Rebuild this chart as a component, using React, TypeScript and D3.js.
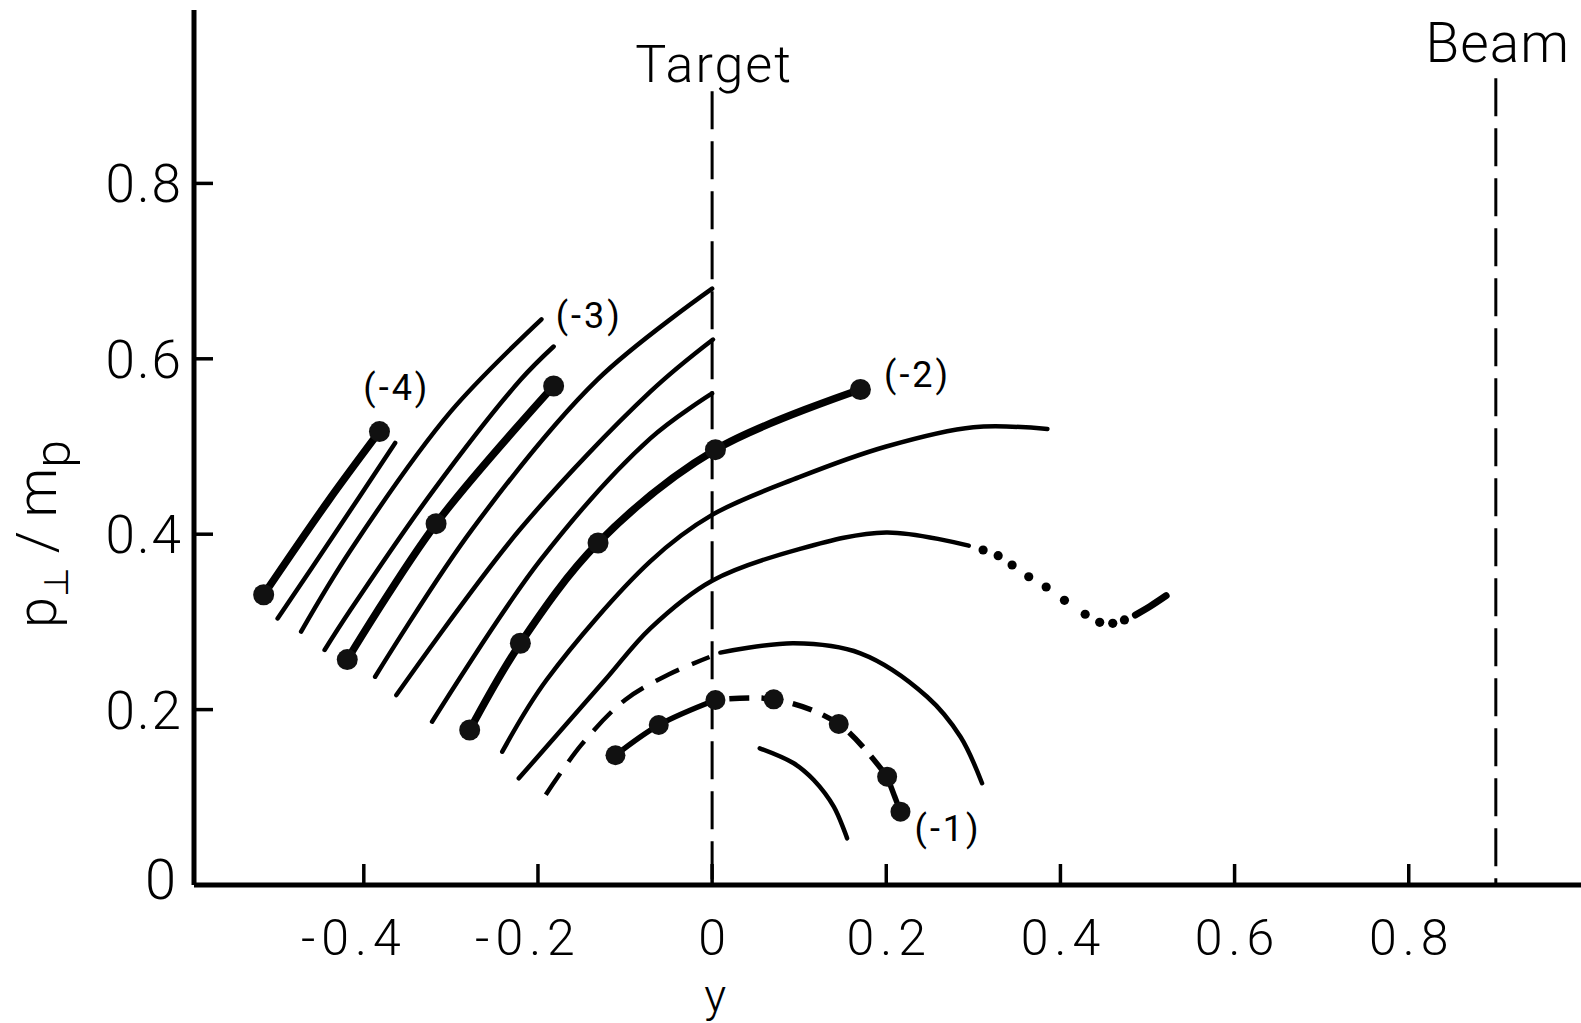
import React from "react";
import * as d3 from "d3";

const W = 1581;
const H = 1023;

// ---- axes ----
const xTickValues = [-0.4, -0.2, 0, 0.2, 0.4, 0.6, 0.8];
const xTickLabels = ["-0.4", "-0.2", "0", "0.2", "0.4", "0.6", "0.8"];
const yTickValues = [0, 0.2, 0.4, 0.6, 0.8];
const yTickLabels = ["0", "0.2", "0.4", "0.6", "0.8"];

const targetRapidity = 0;
const beamRapidity = 0.9;
const targetLineTop = 0.905;
const beamLineTop = 0.92;

// ---- thin contour curves [y, pT/mp] ----
const contour1: [number, number][] = [[-0.499, 0.304], [-0.433, 0.401], [-0.364, 0.504]];
const contour2: [number, number][] = [[-0.472, 0.289], [-0.415, 0.382], [-0.3, 0.54], [-0.196, 0.645]];
const contour3: [number, number][] = [[-0.445, 0.268], [-0.415, 0.314], [-0.32, 0.45], [-0.22, 0.576], [-0.182, 0.614]];
const contour4: [number, number][] = [[-0.387, 0.2375], [-0.276, 0.405], [-0.132, 0.576], [0, 0.68]];
const contour5: [number, number][] = [[-0.3626, 0.2166], [-0.221, 0.405], [-0.0709, 0.5625], [0.001, 0.622]];
const contour6: [number, number][] = [[-0.3216, 0.1862], [-0.197, 0.3706], [-0.0709, 0.5093], [0, 0.5606]];
const contour7: [number, number][] = [[-0.241, 0.152], [-0.19, 0.234], [-0.071, 0.369], [0, 0.422], [0.1, 0.465], [0.2, 0.5], [0.3, 0.522], [0.385, 0.52]];
const contour8Solid: [number, number][] = [[-0.222, 0.1216], [-0.123, 0.2337], [-0.0709, 0.2927], [0, 0.347], [0.1, 0.383], [0.2, 0.402], [0.2947, 0.3869]];
const contour8Dotted: [number, number][] = [[0.3112, 0.382], [0.3285, 0.3755], [0.3445, 0.3649], [0.3636, 0.3515], [0.3836, 0.3398], [0.4046, 0.3246], [0.4284, 0.3087], [0.4451, 0.2995], [0.4601, 0.2984], [0.4735, 0.3022]];
const contour8Tail: [number, number][] = [[0.4861, 0.3079], [0.5034, 0.318], [0.5214, 0.3299]];
const contour9Dashed: [number, number][] = [[-0.191, 0.103], [-0.15, 0.16], [-0.1, 0.211], [-0.05, 0.24], [-0.003, 0.26]];
const contour9Solid: [number, number][] = [[0.0095, 0.265], [0.0937, 0.2756], [0.1703, 0.2642], [0.2469, 0.2147], [0.2852, 0.169], [0.31, 0.116]];
const contour10: [number, number][] = [[0.0547, 0.1559], [0.0937, 0.1388], [0.1167, 0.1197], [0.1397, 0.0893], [0.155, 0.0532]];

// ---- trajectories with measured points ----
const traj4: [number, number][] = [[-0.515, 0.331], [-0.44, 0.439], [-0.382, 0.517]];
const traj4Dots: [number, number][] = [[-0.515, 0.331], [-0.382, 0.517]];
const traj3: [number, number][] = [[-0.419, 0.257], [-0.317, 0.412], [-0.182, 0.569]];
const traj2: [number, number][] = [[-0.2784, 0.1767], [-0.2202, 0.2756], [-0.131, 0.39], [0.0038, 0.4964], [0.1703, 0.565]];
const traj1: [number, number][] = [[-0.111, 0.148], [-0.0613, 0.1824], [0.0038, 0.211], [0.0707, 0.2117], [0.1454, 0.1836], [0.201, 0.1235], [0.2163, 0.0836]];

const trajLabels = ["(-4)", "(-3)", "(-2)", "(-1)"];
const trajLabelAnchors: [number, number][] = [[-0.362, 0.553], [-0.141, 0.635], [0.236, 0.568], [0.271, 0.05]];

const FONT = "Roboto, 'Liberation Sans', 'DejaVu Sans', sans-serif";

export default function App() {
  const x = d3.scaleLinear().domain([-0.595, 1.0]).range([194, 1582.9]);
  const y = d3.scaleLinear().domain([0, 1.0]).range([885, 8]);

  const line = d3
    .line<[number, number]>()
    .x((d) => x(d[0]))
    .y((d) => y(d[1]))
    .curve(d3.curveCatmullRom.alpha(0.5));

  const thin = [contour1, contour2, contour3, contour4, contour5, contour6, contour7, contour8Solid, contour9Solid, contour10];
  const thick = [traj4, traj3, traj2];
  const dotSets = [traj4Dots, traj3, traj2];

  const x0 = x(-0.595);
  const yBase = y(0);

  return (
    <svg width={W} height={H} style={{ position: "absolute", left: 0, top: 0, background: "#fff" }}>
      <rect x={0} y={0} width={W} height={H} fill="#fff" />
      {/* axes */}
      <line x1={x0} x2={x0} y1={y(1.0) + 2} y2={yBase} stroke="#000" strokeWidth={5} />
      <line x1={x0} x2={W} y1={yBase} y2={yBase} stroke="#000" strokeWidth={5} />
      {xTickValues.map((v, i) => (
        <g key={"xt" + i}>
          <line x1={x(v)} x2={x(v)} y1={yBase} y2={yBase - 21} stroke="#000" strokeWidth={3.5} />
          <text
            x={x(v) + (v < 0 ? -10 : 3)}
            y={955}
            textAnchor="middle"
            fontFamily={FONT}
            fontWeight={300}
            fontSize={50}
            letterSpacing={6}
            fill="#000"
          >
            {xTickLabels[i]}
          </text>
        </g>
      ))}
      {yTickValues.map((v, i) => (
        <g key={"yt" + i}>
          {v > 0 && <line x1={x0} x2={x0 + 19} y1={y(v)} y2={y(v)} stroke="#000" strokeWidth={3.5} />}
          <text
            x={v === 0 ? 178 : 183}
            y={y(v) + (v === 0 ? 14 : 19)}
            textAnchor="end"
            fontFamily={FONT}
            fontWeight={300}
            fontSize={v === 0 ? 56 : 53}
            letterSpacing={2}
            fill="#000"
          >
            {yTickLabels[i]}
          </text>
        </g>
      ))}

      {/* target and beam lines */}
      <line x1={x(targetRapidity)} x2={x(targetRapidity)} y1={y(targetLineTop)} y2={yBase} stroke="#000" strokeWidth={3} strokeDasharray="38 12" />
      <line x1={x(beamRapidity)} x2={x(beamRapidity)} y1={y(beamLineTop)} y2={yBase} stroke="#000" strokeWidth={3} strokeDasharray="38 12" />
      <text x={x(targetRapidity) + 2} y={82} textAnchor="middle" fontFamily={FONT} fontWeight={300} fontSize={52} letterSpacing={2} fill="#000">
        Target
      </text>
      <text x={x(beamRapidity) + 2} y={62} textAnchor="middle" fontFamily={FONT} fontWeight={300} fontSize={55} letterSpacing={1} fill="#000">
        Beam
      </text>

      {/* thin contours */}
      {thin.map((c, i) => (
        <path key={"th" + i} d={line(c) || ""} fill="none" stroke="#000" strokeWidth={4.5} strokeLinecap="round" />
      ))}
      <path d={line(contour9Dashed) || ""} fill="none" stroke="#000" strokeWidth={4.5} strokeDasharray="26 14" />
      {contour8Dotted.map((p, i) => (
        <circle key={"dd" + i} cx={x(p[0])} cy={y(p[1])} r={4.6} fill="#000" />
      ))}
      <path d={line(contour8Tail) || ""} fill="none" stroke="#000" strokeWidth={7} strokeLinecap="round" />

      {/* thick trajectories */}
      {thick.map((c, i) => (
        <path key={"tk" + i} d={line(c) || ""} fill="none" stroke="#000" strokeWidth={7.5} strokeLinecap="round" />
      ))}
      {dotSets.map((s, i) =>
        s.map((p, j) => <circle key={"dt" + i + "-" + j} cx={x(p[0])} cy={y(p[1])} r={10.5} fill="#111" />)
      )}

      {/* (-1) trajectory */}
      <path d={line(traj1.slice(0, 3)) || ""} fill="none" stroke="#000" strokeWidth={5.5} />
      <path d={line(traj1.slice(2, 6)) || ""} fill="none" stroke="#000" strokeWidth={5.5} strokeDasharray="20 12" strokeDashoffset={-14} />
      <path d={line(traj1.slice(5, 7)) || ""} fill="none" stroke="#000" strokeWidth={5.5} />
      {traj1.map((p, i) => (
        <circle key={"t1" + i} cx={x(p[0])} cy={y(p[1])} r={10} fill="#111" />
      ))}

      {/* trajectory labels */}
      {trajLabels.map((t, i) => (
        <text
          key={"tl" + i}
          x={x(trajLabelAnchors[i][0])}
          y={y(trajLabelAnchors[i][1])}
          textAnchor="middle"
          fontFamily={FONT}
          fontWeight={400}
          fontSize={36}
          letterSpacing={3}
          fill="#000"
        >
          {t}
        </text>
      ))}

      {/* axis titles */}
      <text x={x(0) + 3} y={1012} textAnchor="middle" fontFamily={FONT} fontWeight={300} fontSize={46} fill="#000">
        y
      </text>
      <g transform="translate(56,534) rotate(-90)">
        <text textAnchor="middle" fontFamily={FONT} fontWeight={300} fontSize={56} fill="#000">
          p
          <tspan fontSize={34} dy={12} fontFamily="'DejaVu Sans', sans-serif">⊥</tspan>
          <tspan dy={-12}> / m</tspan>
          <tspan fontSize={50} dy={14}>p</tspan>
        </text>
      </g>
    </svg>
  );
}
